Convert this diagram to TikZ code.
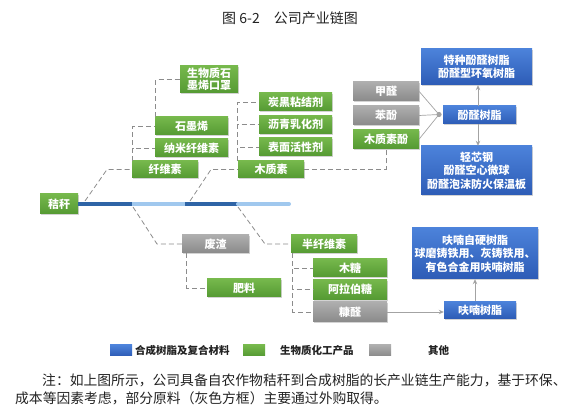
\documentclass[tikz,border=0pt]{standalone}
\usepackage{fontspec}
\setmainfont{Noto Sans CJK SC}
\usetikzlibrary{arrows.meta,shadows}
\definecolor{gtop}{HTML}{76B84C}
\definecolor{gbot}{HTML}{559A33}
\definecolor{btop}{HTML}{4C82DA}
\definecolor{bbot}{HTML}{2D5CB6}
\definecolor{ytop}{HTML}{AEAEAE}
\definecolor{ybot}{HTML}{8A8A8A}
\definecolor{bardark}{HTML}{2E64A6}
\definecolor{barlight}{HTML}{A0C8EE}
\definecolor{linegray}{HTML}{8C8C8C}
\definecolor{txt}{HTML}{222222}
\tikzset{
  box/.style={rectangle, inner sep=0pt, align=center, text=white,
    font=\fontsize{11}{13.5}\selectfont\bfseries,
    drop shadow={shadow xshift=1.2pt, shadow yshift=-1.4pt, opacity=0.35}},
  gbox/.style={box, top color=gtop, bottom color=gbot},
  bbox/.style={box, top color=btop, bottom color=bbot},
  ybox/.style={box, top color=ytop, bottom color=ybot},
  dashline/.style={draw=linegray, line width=0.8pt, dash pattern=on 5pt off 3pt},
  arrowline/.style={draw=linegray!80, line width=0.7pt, -{Stealth[length=5pt,width=4.5pt]}},
  convline/.style={draw=linegray!80, line width=0.7pt},
  legsq/.style={rectangle, minimum width=22pt, minimum height=11pt, inner sep=0pt},
  legtxt/.style={anchor=west, inner sep=0pt, text=txt, font=\fontsize{10.5}{12}\selectfont\bfseries},
}
\begin{document}
\begin{tikzpicture}[x=1pt,y=-1pt]
\useasboundingbox (0,0) rectangle (578,411);

% title
\node[text=txt, font=\fontsize{14}{16}\selectfont] (title) at (290,18) {图 6-2\quad 公司产业链图};

% nodes
\node[gbox, minimum width=38pt, minimum height=20pt] (straw) at (59,204) {秸秆};
\node[gbox, minimum width=66pt, minimum height=17pt] (cell) at (165,169.5) {纤维素};
\node[gbox, minimum width=73pt, minimum height=18pt] (graph) at (191.5,126) {石墨烯};
\node[gbox, minimum width=73pt, minimum height=18pt] (nano) at (191.5,148) {纳米纤维素};
\node[gbox, minimum width=58pt, minimum height=27pt, font=\fontsize{11}{12.5}\selectfont\bfseries] (mask) at (209,79.5) {生物质石\\墨烯口罩};
\node[gbox, minimum width=66pt, minimum height=17pt] (lig) at (271,169.5) {木质素};
\node[gbox, minimum width=73pt, minimum height=18pt] (cb) at (295.5,102) {炭黑粘结剂};
\node[gbox, minimum width=73pt, minimum height=18pt] (asph) at (295.5,124.5) {沥青乳化剂};
\node[gbox, minimum width=73pt, minimum height=18pt] (surf) at (295.5,147) {表面活性剂};
\node[ybox, minimum width=66pt, minimum height=19pt] (form) at (386,91.5) {甲醛};
\node[ybox, minimum width=66pt, minimum height=19pt] (phen) at (386,115.5) {苯酚};
\node[gbox, minimum width=66pt, minimum height=19pt] (ligp) at (386,139) {木质素酚};
\node[bbox, minimum width=73pt, minimum height=18pt] (pf) at (479.5,115) {酚醛树脂};
\node[bbox, minimum width=111pt, minimum height=36pt] (spf) at (476.5,67) {特种酚醛树脂\\酚醛型环氧树脂};
\node[bbox, minimum width=111pt, minimum height=49pt] (lcs) at (476.5,170.5) {轻芯钢\\酚醛空心微球\\酚醛泡沫防火保温板};
\node[ybox, minimum width=67pt, minimum height=18pt] (waste) at (215.5,244) {废渣};
\node[gbox, minimum width=74pt, minimum height=18pt] (fert) at (244,288) {肥料};
\node[gbox, minimum width=66pt, minimum height=18pt] (hemi) at (324,244) {半纤维素};
\node[gbox, minimum width=74pt, minimum height=18pt] (xyl) at (350,268) {木糖};
\node[gbox, minimum width=74pt, minimum height=20pt] (arab) at (350,289.5) {阿拉伯糖};
\node[ybox, minimum width=74pt, minimum height=20pt] (furf) at (350,312) {糠醛};
\node[bbox, minimum width=72pt, minimum height=17pt] (fr) at (480,310) {呋喃树脂};
\node[bbox, minimum width=126pt, minimum height=51pt] (frs) at (475,253.5) {呋喃自硬树脂\\球磨铸铁用、灰铸铁用、\\有色合金用呋喃树脂};

% main bar
\coordinate (p0) at (straw.east);
\coordinate (p1) at (132,204);
\coordinate (p2) at (185,204);
\coordinate (p3) at (238,204);
\coordinate (p4) at (289,204);
\draw[bardark, line width=4pt] (p0) -- (p1);
\draw[barlight, line width=4pt] (p1) -- (p2);
\draw[bardark, line width=4pt] (p2) -- (p3);
\draw[barlight, line width=4pt, line cap=round] (p3) -- (p4);

\coordinate (b1) at (85,201);
\coordinate (b2) at (133,207);
\coordinate (b3) at (190,201);
\coordinate (b4) at (238,207);

% dashed connectors
\draw[dashline] (b1) -- (107,169.5) -- (cell.west);
\draw[dashline] ([xshift=1pt]cell.north west) |- (graph.west);
\draw[dashline] ([xshift=1pt]cell.north west) |- (nano.west);
\draw[dashline] ([xshift=1pt]graph.north west) |- (mask.west);
\draw[dashline] (b3) -- (211,169.5) -- (lig.west);
\draw[dashline] (lig.north west) |- (cb.west);
\draw[dashline] (lig.north west) |- (asph.west);
\draw[dashline] (lig.north west) |- (surf.west);
\draw[dashline] (lig.east) -| (ligp.south);
\draw[dashline] (b2) -- (157,244) -- (waste.west);
\draw[dashline] ([xshift=5pt]waste.south west) |- (fert.west);
\draw[dashline] (b4) -- (265,244) -- (hemi.west);
\draw[dashline] ([xshift=2pt]hemi.south west) |- (xyl.west);
\draw[dashline] ([xshift=2pt]hemi.south west) |- (arab.west);
\draw[dashline] ([xshift=2pt]hemi.south west) |- (furf.west);

% phenolic convergence
\coordinate (m) at (439,114.5);
\draw[convline] (form.east) -- (m);
\draw[convline] (phen.east) -- (m);
\draw[convline] (ligp.east) -- (m);
\fill[linegray!80] (m) circle (2.6pt);
\draw[arrowline] ([xshift=-1.5pt]pf.north) -- ([xshift=-1.5pt]pf.north |- spf.south);
\draw[arrowline] ([xshift=-1.5pt]pf.south) -- ([xshift=-1.5pt]pf.south |- lcs.north);
\draw[arrowline] (furf.east) -- (fr.west |- furf.east);
\draw[arrowline] ([xshift=-5pt]fr.north) -- ([xshift=-5pt]fr.north |- frs.south);

% legend
\node[legsq, top color=btop, bottom color=bbot] (l1) at (121,350.5) {};
\node[legtxt] (t1) at (135,350.5) {合成树脂及复合材料};
\node[legsq, top color=gtop, bottom color=gbot] (l2) at (254,350.5) {};
\node[legtxt] (t2) at (280,350.5) {生物质化工产品};
\node[legsq, top color=ytop, bottom color=ybot] (l3) at (380,350.5) {};
\node[legtxt] (t3) at (428,350.5) {其他};

% note
\node[anchor=west, inner sep=0pt, text=txt, font=\fontsize{13.8}{16}\selectfont] (n1) at (42,380) {注：如上图所示，公司具备自农作物秸秆到合成树脂的长产业链生产能力，基于环保、};
\node[anchor=west, inner sep=0pt, text=txt, font=\fontsize{13.8}{16}\selectfont] (n2) at (15,398) {成本等因素考虑，部分原料（灰色方框）主要通过外购取得。};
\end{tikzpicture}
\end{document}
